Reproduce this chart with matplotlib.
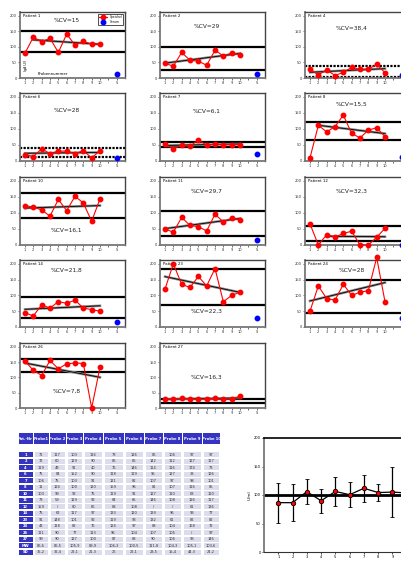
import numpy as np
import matplotlib
matplotlib.use("Agg")
import matplotlib.pyplot as plt
from matplotlib.patches import Rectangle

# ---------------- data ----------------
patients = ["1", "2", "4", "6", "7", "8", "10", "11", "12", "14", "23", "24", "26", "27"]
cv_labels = ["%CV=15", "%CV=29", "%CV=38,4", "%CV=28", "%CV=6,1", "%CV=15,5",
             "%CV=16,1", "%CV=29,7", "%CV=32,3", "%CV=21,8", "%CV=22,3", "%CV=28",
             "%CV=7,8", "%CV=16,3"]
saliva = [
    [80, 131, 116, 128, 82, 141, 106, 118, 108, 109],
    [47, 38, 82, 57, 54, 41, 89, 71, 80, 75],
    [29, 10, 26, 8, 18, 34, 28, 28, 44, 17],
    [20, 14, 38, 23, 31, 31, 23, 32, 10, 32],
    [53, 38, 49, 46, 66, 49, 53, 51, 51, 51],
    [10, 111, 91, 107, 143, 86, 72, 96, 104, 76],
    [122, 119, 109, 90, 142, 107, 152, 131, 74, 144],
    [50, 40, 86, 61, 57, 44, 96, 72, 84, 78],
    [66, 0, 32, 25, 36, 43, 0, 0, 24, 52],
    [45, 35, 70, 60, 80, 75, 85, 60, 55, 50],
    [120, 200, 135, 125, 160, 130, 185, 80, 100, 110],
    [50, 130, 90, 85, 135, 100, 110, 115, 220, 80],
    [153, 123, 106, 155, 128, 144, 147, 145, 0, 133],
    [30, 28, 32, 30, 28, 30, 31, 29, 30, 38],
]
serum = [14, 13, 10, 9, 21, 11, None, 16, 0, 15, 30, 30, None, None]
upper_limit = [150, 99, 39, 42, 59, 122, 163, 106, 60, 95, 185, 150, 160, 28]
lower_limit = [82, 26, 3, 11, 43, 65, 83, 28, 12, 30, 70, 45, 118, 15]
trend_start = [2, 1, 1, 1, 1, 2, 1, 1, 3, 1, 1, 1, 1, 1]
xticks_main = [1, 2, 3, 4, 5, 6, 7, 8, 9, 10, 11, 12]
xticklabels_main = ["1", "2", "3", "4", "5", "6", "7", "8", "9", "10", "", "S"]
yticks_main = [0, 50, 100, 150, 200]

table_header = ["Pat.-Nr", "Probe1", "Probe 2", "Probe 3", "Probe 4", "Probe 5",
                "Probe 6", "Probe 7", "Probe 8", "Probe 9", "Probe 10"]
table_rowlabels = ["1", "2", "4", "6", "7", "8", "10", "11", "12", "14", "23", "24",
                   "26", "27", "MW", "SD"]
table_values = [
    ["71", "117", "103", "116", "73", "126", "86", "106", "97", "97"],
    ["72", "60", "129", "90", "86", "66", "142", "112", "127", "117"],
    ["119", "49", "91", "40", "76", "146", "114", "116", "174", "73"],
    ["75", "84", "152", "90", "118", "119", "95", "127", "38", "126"],
    ["106", "75", "103", "91", "121", "82", "107", "97", "98", "101"],
    ["11", "124", "100", "120", "159", "96", "81", "107", "116", "85"],
    ["103", "99", "92", "75", "119", "91", "127", "110", "63", "120"],
    ["73", "59", "129", "92", "84", "65", "146", "108", "126", "117"],
    ["159", "/", "80", "66", "88", "108", "/", "/", "61", "136"],
    ["75", "62", "117", "97", "133", "120", "139", "96", "93", "77"],
    ["91", "148", "101", "92", "119", "93", "132", "61", "82", "82"],
    ["43", "118", "82", "76", "124", "97", "88", "104", "168", "72"],
    ["111", "90", "77", "113", "96", "104", "107", "105", "/", "97"],
    ["99", "90", "127", "100", "87", "88", "90", "106", "93", "146"],
    ["86,6", "86,5", "105,9", "89,9", "106,3", "100,5", "111,8", "104,3", "105,1", "103,6"],
    ["35,2", "32,4", "22,1", "21,3", "26", "22,1", "23,5", "15,4", "44,3", "24,2"],
]
probe_no = [1, 2, 3, 4, 5, 6, 7, 8, 9, 10]
mean_values = [86.6, 86.5, 105.9, 89.9, 106.3, 100.5, 111.8, 104.3, 105.1, 103.6]
sd_values = [35.2, 32.4, 22.1, 21.3, 26.0, 22.1, 23.5, 15.4, 44.3, 24.2]

# ---------------- layout ----------------
W, H = 401, 562
fig = plt.figure(figsize=(W / 100, H / 100), dpi=100)


def px_axes(left, top, width, height):
    return fig.add_axes([left / W, 1 - (top + height) / H, width / W, height / H])


col_left = [20, 160, 305]
row_box = [(12, 66), (93, 68), (177, 68), (260, 67), (343, 65)]
cv_text_y = [185, 165, 160, 158, 156, 178, 46, 168, 167, 180, 50, 180, 53, 100]
dotted = [False, False, True, True, False, False, False, False, False, False,
          False, False, False, False]

for i, pid in enumerate(patients):
    r, c = divmod(i, 3)
    top, h = row_box[r]
    ax = px_axes(col_left[c], top, 105, h)
    ax.set_xlim(0.4, 13)
    ax.set_ylim(0, 212)
    for s in ["left", "bottom"]:
        ax.spines[s].set_color("#777777")
        ax.spines[s].set_linewidth(1.3)
    for s in ["top", "right"]:
        ax.spines[s].set_color("#444444")
        ax.spines[s].set_linewidth(1.0)
    ax.set_xticks(xticks_main)
    labels = list(xticklabels_main)
    if c == 2:
        labels[-1] = ""  # the S label falls outside the (cropped) figure
    ax.set_xticklabels(labels)
    ax.set_yticks(yticks_main)
    ax.tick_params(labelsize=2.6, length=1.2, width=0.5, pad=1, colors="#333333")

    ls = (0, (1, 0.6)) if dotted[i] else "-"
    ax.axhline(upper_limit[i], color="black", lw=1.6, ls=ls)
    ax.axhline(lower_limit[i], color="black", lw=1.6, ls=ls)

    y = np.array(saliva[i], dtype=float)
    x = np.array(probe_no, dtype=float)
    s0 = trend_start[i] - 1
    k, b = np.polyfit(x[s0:], y[s0:], 1)
    xt = np.array([x[s0], x[-1]])
    ax.plot(xt, k * xt + b, color="#888888", lw=1.8, zorder=3)
    ax.plot(xt, k * xt + b, color="black", lw=0.6, zorder=3)

    ax.plot(x, y, color="red", lw=0.8, marker="o", ms=3.2, zorder=4, clip_on=False,
            label="Speichel")
    if serum[i] is not None:
        ax.plot([12], [serum[i]], "o", color="blue", ms=3.2, zorder=4, clip_on=False,
                label="Serum")
    ax.text(0.03, 0.97, "Patient " + pid, transform=ax.transAxes, fontsize=2.8,
            va="top", ha="left")
    ax.text(6, cv_text_y[i], cv_labels[i], fontsize=4.2, ha="center", va="center",
            color="#222222")
    if i == 0:
        leg = ax.legend(loc="upper right", fontsize=2.2, frameon=True, borderpad=0.4,
                        handlelength=2.5, labelspacing=0.4, fancybox=False,
                        edgecolor="black")
        leg.get_frame().set_linewidth(0.6)
        ax.text(2.5, 5, "Probennummer", fontsize=2.8, ha="left", va="bottom")
        ax.text(0.9, 40, "IgA U/l", fontsize=2.4, rotation=90, ha="left", va="center")

# ---------------- table ----------------
tab = fig.add_axes([0, 0, 1, 1])
tab.set_xlim(0, W)
tab.set_ylim(H, 0)
tab.axis("off")
col_edges = [18, 33, 49, 66, 83, 103, 124, 144, 163, 182, 202, 220]
blue = "#3434c0"
cell_bg = "#dcdcec"
# header
for j, name in enumerate(table_header):
    x0, x1 = col_edges[j] + 0.5, col_edges[j + 1] - 0.5
    tab.add_patch(Rectangle((x0, 433), x1 - x0, 11, color=blue, lw=0))
    tab.text((x0 + x1) / 2, 438.5, name, color="white", fontsize=2.7, ha="center",
             va="center", fontweight="bold")
row_h = 6.5
y_start = 451.5
for rr, lab in enumerate(table_rowlabels):
    yt = y_start + rr * row_h
    x0, x1 = col_edges[0] + 0.5, col_edges[1] - 0.5
    tab.add_patch(Rectangle((x0, yt + 0.6), x1 - x0, row_h - 1.2, color=blue, lw=0))
    tab.text((x0 + x1) / 2, yt + row_h / 2, lab, color="white", fontsize=2.6,
             ha="center", va="center", fontweight="bold")
    for j, val in enumerate(table_values[rr]):
        x0, x1 = col_edges[j + 1] + 1.5, col_edges[j + 2] - 1.5
        tab.add_patch(Rectangle((x0, yt + 0.8), x1 - x0, row_h - 1.6, color=cell_bg,
                                lw=0))
        tab.text((x0 + x1) / 2, yt + row_h / 2, val, color="#333333", fontsize=2.6,
                 ha="center", va="center")

# ---------------- mean +/- SD chart ----------------
ax2 = px_axes(264, 438, 157, 114)
ax2.set_xlim(0, 11)
ax2.set_ylim(0, 200)
ax2.axhline(100, color="black", lw=2.0, zorder=2)
ax2.errorbar(probe_no, mean_values, yerr=sd_values, color="black", lw=0.9,
             elinewidth=0.9, capsize=1.6, capthick=0.9, marker="o", ms=3.2,
             mfc="red", mec="black", mew=0.6, zorder=3)
ax2.spines["left"].set_color("#777777")
ax2.spines["left"].set_linewidth(1.3)
ax2.spines["bottom"].set_color("#333333")
ax2.spines["bottom"].set_linewidth(0.8)
ax2.spines["top"].set_color("black")
ax2.spines["top"].set_linewidth(1.2)
ax2.spines["right"].set_visible(False)
ax2.set_xticks(probe_no[:9])  # probe 10 lies beyond the cropped right edge
ax2.set_yticks([0, 50, 100, 150, 200])
ax2.tick_params(labelsize=2.6, length=1.2, width=0.5, pad=1)
ax2.set_ylabel("U/ml", fontsize=3, labelpad=2)

fig.savefig("out.png", dpi=100)
